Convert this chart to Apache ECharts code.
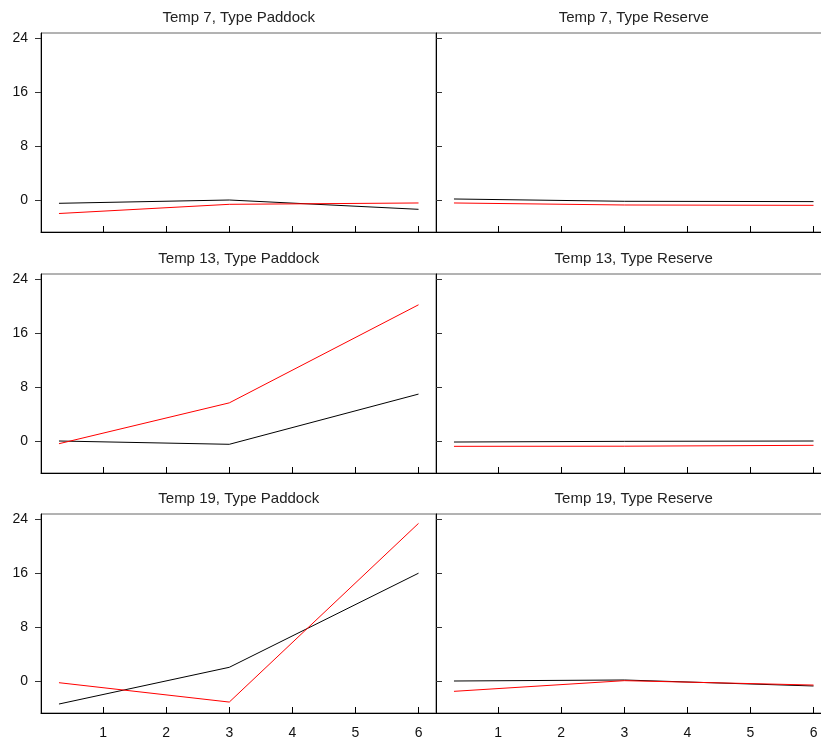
<!DOCTYPE html>
<html>
<head>
<meta charset="utf-8">
<script src="https://cdn.jsdelivr.net/npm/echarts@6/dist/echarts.min.js"></script>
<style>html,body{margin:0;padding:0;background:#fff;}#c{width:821px;height:745px;}</style>
</head>
<body>
<div id="c"></div>
<script>
const xValues = [0.3, 3, 6];
const xTicks = [1, 2, 3, 4, 5, 6];
const yTicks = [0, 8, 16, 24];
const panelTitles = [
  "Temp 7, Type Paddock", "Temp 7, Type Reserve",
  "Temp 13, Type Paddock", "Temp 13, Type Reserve",
  "Temp 19, Type Paddock", "Temp 19, Type Reserve"
];
const t7PaddockBlack = [-0.49, 0.0, -1.38];
const t7PaddockRed = [-2.0, -0.64, -0.44];
const t7ReserveBlack = [0.15, -0.19, -0.24];
const t7ReserveRed = [-0.44, -0.74, -0.79];
const t13PaddockBlack = [0.0, -0.49, 6.95];
const t13PaddockRed = [-0.4, 5.65, 20.18];
const t13ReserveBlack = [-0.15, -0.05, 0.0];
const t13ReserveRed = [-0.79, -0.77, -0.64];
const t19PaddockBlack = [-3.41, 2.03, 15.97];
const t19PaddockRed = [-0.25, -3.12, 23.35];
const t19ReserveBlack = [0.0, 0.15, -0.74];
const t19ReserveRed = [-1.53, 0.05, -0.6];

const blackSeries = [t7PaddockBlack, t7ReserveBlack, t13PaddockBlack, t13ReserveBlack, t19PaddockBlack, t19ReserveBlack];
const redSeries = [t7PaddockRed, t7ReserveRed, t13PaddockRed, t13ReserveRed, t19PaddockRed, t19ReserveRed];

const FONT = "'Liberation Sans', Arial, sans-serif";
const colLeft = [41, 436];
const colWidth = 395.5;
const rowTop = [33, 274, 514];
const rowHeight = 199;
const titleY = [18, 259, 499];

const grids = [], xAxes = [], yAxes = [], series = [], graphics = [];
for (let i = 0; i < 6; i++) {
  const r = Math.floor(i / 2), c = i % 2;
  grids.push({
    left: colLeft[c], top: rowTop[r], width: colWidth, height: rowHeight,
    outerBoundsMode: 'none', containLabel: false,
    show: true, borderColor: '#666', borderWidth: 1, backgroundColor: 'transparent'
  });
  xAxes.push({
    type: 'value', gridIndex: i, min: 0.015, max: 6.285,
    axisLine: { show: true, onZero: false, lineStyle: { color: '#000', width: 1 } },
    axisTick: { show: true, inside: true, length: 6, customValues: xTicks, lineStyle: { color: '#000' } },
    axisLabel: { show: r === 2, customValues: xTicks, margin: 13, color: '#111', fontSize: 14, fontFamily: FONT },
    splitLine: { show: false }
  });
  yAxes.push({
    type: 'value', gridIndex: i, min: -4.74, max: 24.74,
    axisLine: { show: true, onZero: false, lineStyle: { color: '#000', width: 1 } },
    axisTick: { show: true, inside: c === 1, length: 6, customValues: yTicks, lineStyle: { color: '#333' } },
    axisLabel: { show: c === 0, customValues: yTicks, margin: 13, color: '#111', fontSize: 14, fontFamily: FONT },
    splitLine: { show: false }
  });
  series.push({
    type: 'line', xAxisIndex: i, yAxisIndex: i, showSymbol: false, animation: false,
    lineStyle: { color: '#000', width: 1 }, itemStyle: { color: '#000' },
    data: xValues.map((x, k) => [x, blackSeries[i][k]])
  });
  series.push({
    type: 'line', xAxisIndex: i, yAxisIndex: i, showSymbol: false, animation: false,
    lineStyle: { color: '#ff0000', width: 1 }, itemStyle: { color: '#ff0000' },
    data: xValues.map((x, k) => [x, redSeries[i][k]])
  });
  graphics.push({
    type: 'text', x: colLeft[c] + colWidth / 2, y: titleY[r],
    style: { text: panelTitles[i], fontSize: 15, fontFamily: FONT, fill: '#222', align: 'center', verticalAlign: 'middle' }
  });
}

const chart = echarts.init(document.getElementById('c'), null, { renderer: 'canvas' });
chart.setOption({
  animation: false,
  backgroundColor: '#fff',
  grid: grids, xAxis: xAxes, yAxis: yAxes, series: series,
  graphic: graphics
});
</script>
</body>
</html>
